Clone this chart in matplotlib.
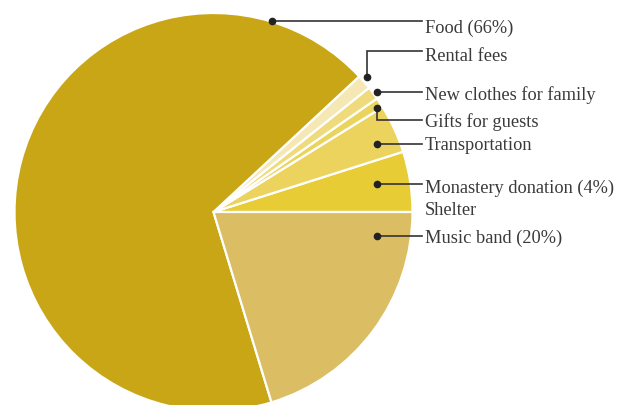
import matplotlib
matplotlib.use("Agg")
import matplotlib.pyplot as plt

# slices, counter-clockwise from 3 o'clock
labels = ["Shelter", "Monastery donation (4%)", "Transportation", "Gifts for guests",
          "New clothes for family", "Rental fees", "Food (66%)", "Music band (20%)"]
values = [0.0, 4.9, 3.94, 0.82, 1.07, 1.2, 67.8, 20.3]
colors = ["#e8cd38", "#e7cc36", "#ecd35e", "#ebd45c", "#efdb7c", "#f5e8b5", "#c9a615", "#dbbd64"]

W, H = 621, 406
fig = plt.figure(figsize=(W / 100, H / 100), dpi=100)
ax = fig.add_axes([0, 0, 1, 1])

cx, cy, r = 213.5, H - 213, 199
ax.pie(values, colors=colors, startangle=0, counterclock=True,
       center=(cx, cy), radius=r,
       wedgeprops=dict(edgecolor="white", linewidth=1.6))

# label layout in image pixels: (text y, leader path from dot to text)
text_x = 425
line_end = 422
layout = {
    "Food (66%)": (28, [(272, 22), (line_end, 22)]),
    "Rental fees": (56, [(367, 78), (367, 52), (line_end, 52)]),
    "New clothes for family": (95, [(377, 93), (line_end, 93)]),
    "Gifts for guests": (122, [(377, 109), (377, 121), (line_end, 121)]),
    "Transportation": (145, [(377, 145), (line_end, 145)]),
    "Monastery donation (4%)": (188, [(377, 185), (line_end, 185)]),
    "Shelter": (210, None),
    "Music band (20%)": (238, [(377, 237), (line_end, 237)]),
}

for lab in labels:
    ty, path = layout[lab]
    if path:
        xs = [p[0] for p in path]
        ys = [H - p[1] for p in path]
        ax.plot(xs, ys, color="#333333", lw=1.2, solid_joinstyle="miter")
        ax.plot(xs[0], ys[0], "o", color="#222222", ms=4.5)
    ax.text(text_x, H - ty - 0.5, lab, fontsize=13.2, family="Liberation Serif",
            color="#3a3a3a", va="center", ha="left")

ax.set_xlim(0, W)
ax.set_ylim(0, H)
ax.set_aspect("equal")
ax.axis("off")
fig.savefig("out.png", dpi=100)
